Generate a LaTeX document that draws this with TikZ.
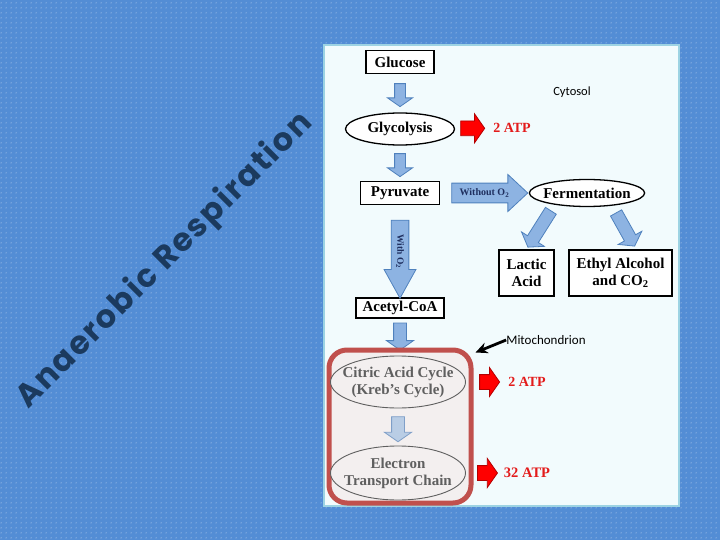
\documentclass[tikz,border=0pt]{standalone}
\usepackage{fontspec}
\setmainfont{Liberation Serif}
\newfontfamily\labelfont{Carlito}
\newfontfamily\titlefont[LetterSpace=6]{Poppins}
\usepackage{tikz}
\usetikzlibrary{shapes.geometric, shapes.arrows, arrows.meta, positioning, patterns.meta}

\definecolor{slideblue}{HTML}{538DD5}
\definecolor{panelfill}{HTML}{F2FBFD}
\definecolor{panelline}{HTML}{9DD3E3}
\definecolor{arrowfill}{HTML}{8DB3E2}
\definecolor{arrowline}{HTML}{4F81BD}
\definecolor{paleblue}{HTML}{B9CDE5}
\definecolor{paleline}{HTML}{7F9FC8}
\definecolor{mitored}{HTML}{C0504D}
\definecolor{mitofill}{HTML}{F3EFEF}
\definecolor{mitotext}{HTML}{5F5F5F}
\definecolor{atpred}{HTML}{E31B1B}
\definecolor{titlenavy}{HTML}{1B3A5E}
\definecolor{arrowtext}{HTML}{1F2F5F}

\tikzdeclarepattern{
  name=slidedots,
  type=uncolored,
  bottom left={(0pt,0pt)},
  top right={(5pt,5pt)},
  tile size={(5pt,5pt)},
  code={\fill (2.5pt,2.5pt) circle (0.55pt);}
}

\begin{document}
\begin{tikzpicture}[
    x=1pt, y=-1pt,
    node distance=10pt,
    box/.style={rectangle, draw=black, line width=1.3pt, fill=white, inner sep=2pt, align=center, font=\fontsize{15}{17}\selectfont\bfseries},
    oval/.style={ellipse, draw=black, line width=1.3pt, fill=white, inner xsep=-3pt, inner ysep=0pt, font=\fontsize{15}{17}\selectfont\bfseries},
    mitooval/.style={ellipse, draw=mitotext, line width=0.9pt, fill=mitofill, inner xsep=-12pt, inner ysep=0pt, minimum width=135pt, minimum height=52pt, align=center, text=mitotext, font=\fontsize{15}{17}\selectfont\bfseries},
    fatarr/.style={single arrow, draw=arrowline, fill=arrowfill, line width=0.8pt, inner xsep=0pt, sloped, allow upside down, single arrow tip angle=110},
    palearr/.style={fatarr, draw=paleline, fill=paleblue},
    atparr/.style={single arrow, draw=red!70!black, fill=red, line width=0.8pt, inner xsep=0pt, inner ysep=7pt, minimum width=23pt, single arrow tip angle=110},
    atp/.style={inner sep=0pt, text=atpred, font=\fontsize{14}{16}\selectfont\bfseries},
    note/.style={inner sep=0pt, font=\labelfont\fontsize{12.5}{14}\selectfont},
]

% ---- slide background ----
\fill[slideblue] (0,0) rectangle (720,540);
\fill[pattern=slidedots, pattern color=white!85!slideblue] (0,0) rectangle (720,540);
\useasboundingbox (0,0) rectangle (720,540);

\node[rotate=45, inner sep=0pt, text=titlenavy, font=\titlefont\bfseries\fontsize{32}{38}\selectfont] (title) at (165,261) {Anaerobic Respiration};

% ---- panel ----
\draw[panelline, line width=2pt, fill=panelfill] (324,45) rectangle (679,506);

% ---- cytosol ----
\node[box, minimum width=68pt, minimum height=23pt] (glucose) at (400,62) {Glucose};
\node[oval, minimum width=109pt, minimum height=32pt] (glycolysis) at (400,129) {Glycolysis};
\node[box, minimum width=79pt, minimum height=23pt] (pyruvate) at (400,193) {Pyruvate};
\node[oval, minimum width=109pt, minimum height=27pt] (ferm) at (587,193) {Fermentation};
\node[box, minimum width=55pt, minimum height=46pt] (lactic) at (526.5,273) {Lactic\\Acid};
\node[box, minimum width=103pt, minimum height=46pt] (ethyl) at (620.5,273) {Ethyl Alcohol\\and CO$_\mathbf{2}$};
\node[box, minimum width=88pt, minimum height=20pt] (acetyl) at (400,308) {Acetyl-CoA};

\node[atp] (atpA) at (512,128) {2 ATP};
\node[note] (cytosol) at (572,92) {Cytosol};

% ---- mitochondrion ----
\path (acetyl) -- node[fatarr, inner ysep=6pt, minimum width=24pt, minimum height=27pt] {} (400,350);
\node[draw=mitored, line width=5pt, rounded corners=18pt, fill=mitofill, minimum width=142pt, minimum height=153pt] (mito) at (400,426.5) {};
\node[mitooval] (citric) at (398,382) {Citric Acid Cycle\\(Kreb’s Cycle)};
\node[mitooval, minimum height=54pt] (etc) at (398,473) {Electron\\Transport Chain};
\node[atp] (atpB) at (527,382) {2 ATP};
\node[atp, font=\fontsize{14.5}{16}\selectfont\bfseries] (atpC) at (527,473) {32 ATP};
\node[note, font=\labelfont\fontsize{13}{15}\selectfont] (mitolabel) at (546,340) {Mitochondrion};

% ---- block arrows ----
\path (glucose) -- node[fatarr, inner ysep=5pt, minimum width=24pt, minimum height=23pt] {} (glycolysis);
\path (glycolysis) -- node[fatarr, inner ysep=5pt, minimum width=24pt, minimum height=23pt] {} (pyruvate);
\path (pyruvate) -- node[fatarr, inner ysep=4.5pt, minimum width=28pt, minimum height=78pt, single arrow tip angle=58, text=arrowtext, font=\fontsize{9.5}{10}\selectfont\bfseries] {With O$_\mathbf{2}$} (acetyl);
\path (pyruvate) -- node[fatarr, inner ysep=3.5pt, minimum width=37pt, minimum height=76pt, single arrow tip angle=86, text=arrowtext, font=\fontsize{10}{10}\selectfont\bfseries] {Without O$_\mathbf{2}$} (ferm);
\path (ferm.200) -- node[fatarr, inner ysep=6pt, minimum width=26pt, minimum height=43pt] {} (lactic.north);
\path (ferm.333) -- node[fatarr, inner ysep=6pt, minimum width=26pt, minimum height=38pt] {} (ethyl.56);
\path (citric) -- node[palearr, inner ysep=6pt, minimum width=25pt, minimum height=25pt] {} (etc);

\path (glycolysis) -- node[atparr, minimum height=24pt, xshift=-4pt] {} (atpA);
\path (citric) -- node[atparr, minimum height=20pt] {} (atpB);
\path (etc) -- node[atparr, minimum height=20pt] {} (atpC);

\draw[-{Stealth[length=12pt, width=11pt]}, line width=2.8pt] (mitolabel.west) -- ([xshift=2, yshift=-5]mito.north east);

\end{tikzpicture}
\end{document}
